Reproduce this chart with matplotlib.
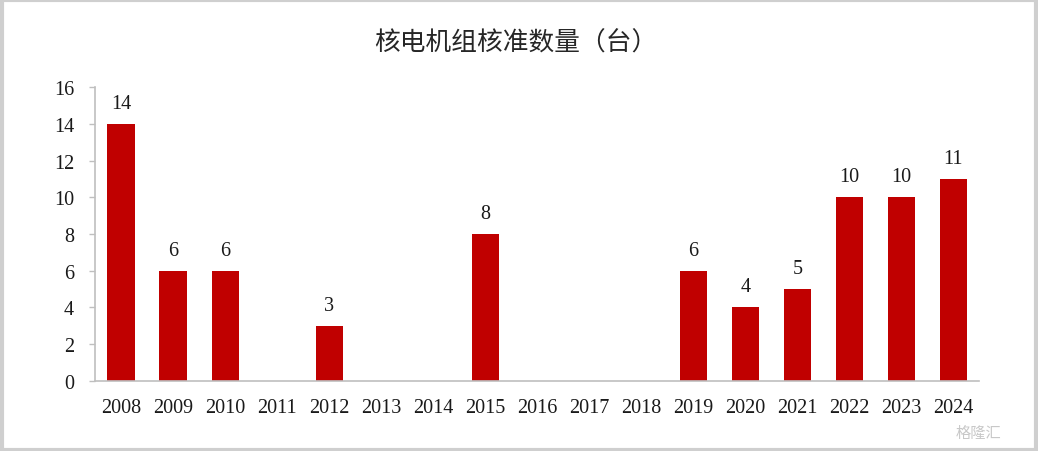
import matplotlib
matplotlib.use("Agg")
import matplotlib.pyplot as plt
from matplotlib.patches import Rectangle

# ===== DATA =====
years = ["2008", "2009", "2010", "2011", "2012", "2013", "2014", "2015", "2016",
         "2017", "2018", "2019", "2020", "2021", "2022", "2023", "2024"]
approvals = [14, 6, 6, 0, 3, 0, 0, 8, 0, 0, 0, 6, 4, 5, 10, 10, 11]
yticks = [0, 2, 4, 6, 8, 10, 12, 14, 16]
title = "核电机组核准数量（台）"

# ===== STYLE =====
BAR_COLOR = "#C00000"
AXIS_COLOR = "#BFBFBF"
NUM_FONT = "Liberation Serif"
CJK_FONT = ["Noto Sans CJK SC", "DejaVu Sans"]

fig = plt.figure(figsize=(10.38, 4.52), dpi=100)
ax = fig.add_axes([0.0915, 0.155, 0.852, 0.65])

x = list(range(len(years)))
bars = ax.bar(x, approvals, width=0.52, color=BAR_COLOR)

# value labels, only for non-zero years
for xi, v in zip(x, approvals):
    if v > 0:
        ax.annotate(str(v), (xi, v), xytext=(0, 8), textcoords="offset points",
                    ha="center", va="bottom", fontsize=14.5, family=NUM_FONT,
                    color="#1a1a1a")

ax.set_xlim(-0.5, len(years) - 0.5)
ax.set_ylim(0, 16)
ax.set_yticks(yticks)
ax.set_xticks(x)
ax.set_xticklabels(years)

for lab in ax.get_xticklabels() + ax.get_yticklabels():
    lab.set_fontfamily(NUM_FONT)
    lab.set_fontsize(14.5)
    lab.set_color("#1a1a1a")

ax.spines["top"].set_visible(False)
ax.spines["right"].set_visible(False)
ax.spines["left"].set_color(AXIS_COLOR)
ax.spines["bottom"].set_color(AXIS_COLOR)
ax.spines["left"].set_linewidth(1.2)
ax.spines["bottom"].set_linewidth(1.2)
ax.tick_params(axis="y", direction="out", length=4, width=1, color=AXIS_COLOR, pad=11)
ax.tick_params(axis="x", length=0, pad=12)

fig.text(0.497, 0.903, title, ha="center", va="center", fontsize=18.5,
         family=CJK_FONT, color="#262626")

# watermark
fig.text(0.965, 0.04, "格隆汇", ha="right", va="center", fontsize=11,
         family=CJK_FONT, color="#C8C8C8")

# outer frame
fig.patches.append(Rectangle((0.0015, 0.003), 0.997, 0.994, transform=fig.transFigure,
                             fill=False, edgecolor="#CFCFCF", linewidth=3))

fig.savefig("out.png", dpi=100)
